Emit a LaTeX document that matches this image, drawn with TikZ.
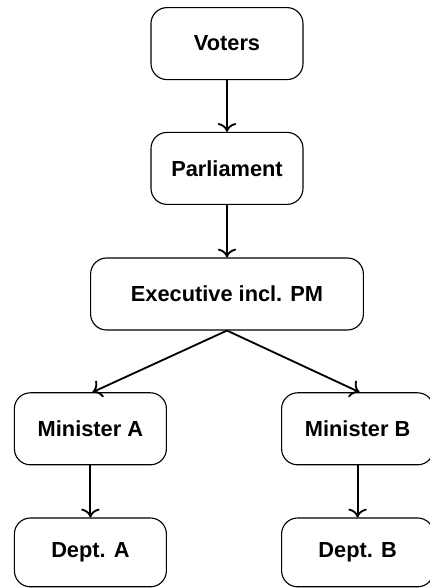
\documentclass[tikz,border=0pt]{standalone}
\usepackage{fontspec}
\setmainfont{Liberation Sans}
\usetikzlibrary{calc, arrows.meta}

\tikzset{
	box/.style = {draw, rounded corners = 0.4cm, line width = 0.8pt, font = \fontsize{15.5}{18}\selectfont\bfseries, minimum height = 1.8cm, inner sep = 0pt},
	small box/.style = {box, minimum width = 3.8cm},
}

\begin{document}
\begin{tikzpicture}
		\def\mid{5.675};
		\def\xA{2.26};
		\def\xB{8.94};
		
		\useasboundingbox (0,0) rectangle (10.75,-14.7);
		
		\node [small box] (voters) at (\mid,-1.09) {Voters};
		\node [small box] (parliament) at (\mid,-4.21) {Parliament};
		\node [box, minimum width = 6.82cm] (executive) at (\mid,-7.35) {Executive incl. PM};
		
		\node [small box] (minister A) at (\xA,-10.72) {Minister A};
		\node [small box] (minister B) at (\xB,-10.72) {Minister B};
		\node [small box, minimum height = 1.72cm] (dept A) at (\xA,-13.81) {Dept. A};
		\node [small box, minimum height = 1.72cm] (dept B) at (\xB,-13.81) {Dept. B};
		
		\begin{scope}[-{To[scale=1.4]}, line width = 1.3pt]
			\draw (voters) -- (parliament);
			\draw (parliament) -- (executive);
			\draw (executive.south) -- ($(minister A.north) + (0.05,0)$);
			\draw (executive.south) -- ($(minister B.north) + (0.05,0)$);
			\draw (minister A) -- (dept A);
			\draw (minister B) -- (dept B);
		\end{scope}
	\end{tikzpicture}
\end{document}
